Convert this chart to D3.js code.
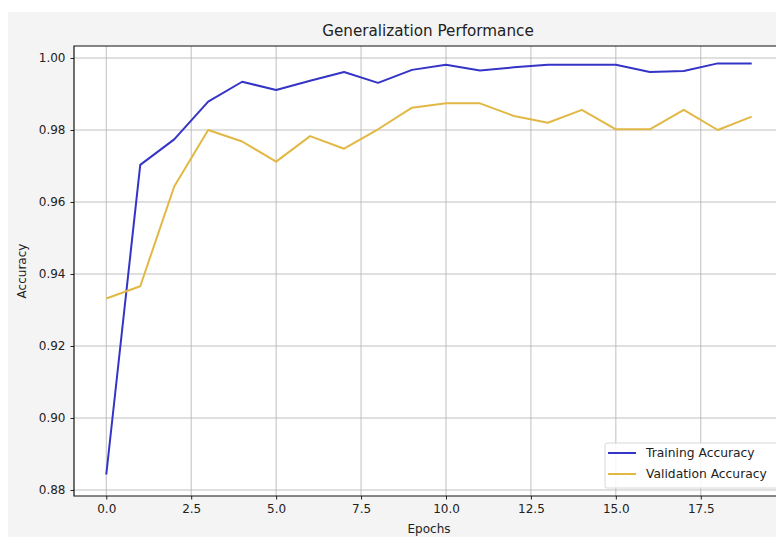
<!DOCTYPE html>
<html>
<head>
<meta charset="utf-8">
<script src="https://cdn.jsdelivr.net/npm/d3@7"></script>
<style>
  html, body { margin: 0; padding: 0; background: #fff; }
  svg { display: block; font-family: "DejaVu Sans", sans-serif; }
</style>
</head>
<body>
<svg id="chart" width="776" height="538"></svg>
<script>
// epochs 0..19
const epochs = d3.range(0, 20)

const trainingAccuracy = [
  0.8843, 0.9703, 0.9774, 0.9879, 0.9934, 0.9911, 0.9937, 0.9961, 0.9931, 0.9967,
  0.9981, 0.9965, 0.9974, 0.9981, 0.9981, 0.9981, 0.9961, 0.9964, 0.9985, 0.9985
]

const validationAccuracy = [
  0.9332, 0.9366, 0.9643, 0.9800, 0.9768, 0.9712, 0.9783, 0.9748, 0.9802, 0.9862,
  0.9874, 0.9874, 0.9839, 0.9820, 0.9856, 0.9802, 0.9802, 0.9856, 0.9800, 0.9837
]

const xTicks = [0, 2.5, 5, 7.5, 10, 12.5, 15, 17.5]
const yTicks = [0.88, 0.90, 0.92, 0.94, 0.96, 0.98, 1.00]

const series = [
  { name: 'Training Accuracy', values: trainingAccuracy, color: '#3434c6' },
  { name: 'Validation Accuracy', values: validationAccuracy, color: '#e2b845' }
]

const svg = d3.select('#chart')

// figure background (matplotlib-like light gray)
svg.append('rect')
  .attr('x', 8).attr('y', 12)
  .attr('width', 768).attr('height', 525)
  .attr('fill', '#f4f4f4')

const plot = { left: 74, right: 784, top: 46, bottom: 496 }

const x = d3.scaleLinear().domain([-0.95, 19.95]).range([plot.left, plot.right])
const y = d3.scaleLinear().domain([0.87833, 1.00333]).range([plot.bottom, plot.top])

svg.append('rect')
  .attr('x', plot.left).attr('y', plot.top)
  .attr('width', plot.right - plot.left).attr('height', plot.bottom - plot.top)
  .attr('fill', '#fff')

// grid
const grid = svg.append('g').attr('stroke', '#b0b0b0').attr('stroke-width', 0.8)
grid.selectAll('.gx').data(xTicks).join('line')
  .attr('x1', d => x(d)).attr('x2', d => x(d))
  .attr('y1', plot.top).attr('y2', plot.bottom)
grid.selectAll('.gy').data(yTicks).join('line')
  .attr('y1', d => y(d)).attr('y2', d => y(d))
  .attr('x1', plot.left).attr('x2', plot.right)

// lines
const line = d3.line()
  .x((d, i) => x(epochs[i]))
  .y(d => y(d))

svg.selectAll('.series').data(series).join('path')
  .attr('fill', 'none')
  .attr('stroke', d => d.color)
  .attr('stroke-width', 2)
  .attr('stroke-linejoin', 'round')
  .attr('d', d => line(d.values))

// axes
const xAxis = d3.axisBottom(x).tickValues(xTicks).tickFormat(d3.format('.1f')).tickSize(3.5).tickPadding(5)
const yAxis = d3.axisLeft(y).tickValues(yTicks).tickFormat(d3.format('.2f')).tickSize(3.5).tickPadding(5)

const gx = svg.append('g').attr('transform', `translate(0,${plot.bottom})`).call(xAxis)
const gy = svg.append('g').attr('transform', `translate(${plot.left},0)`).call(yAxis)
;[gx, gy].forEach(g => {
  g.select('.domain').remove()
  g.selectAll('text').attr('font-size', 12).attr('fill', '#222').attr('font-family', '"DejaVu Sans", sans-serif')
  g.selectAll('line').attr('stroke', '#222')
})

// spines
svg.append('path')
  .attr('d', `M${plot.right},${plot.top}H${plot.left}V${plot.bottom}H${plot.right}`)
  .attr('fill', 'none')
  .attr('stroke', '#111')
  .attr('stroke-width', 1.2)

// title and labels
svg.append('text')
  .attr('x', (plot.left + plot.right) / 2 - 1).attr('y', 36)
  .attr('text-anchor', 'middle')
  .attr('font-size', 15.2).attr('fill', '#222')
  .text('Generalization Performance')

svg.append('text')
  .attr('x', (plot.left + plot.right) / 2).attr('y', 533)
  .attr('text-anchor', 'middle')
  .attr('font-size', 12).attr('fill', '#222')
  .text('Epochs')

svg.append('text')
  .attr('transform', `translate(26,${(plot.top + plot.bottom) / 2}) rotate(-90)`)
  .attr('text-anchor', 'middle')
  .attr('font-size', 12).attr('fill', '#222')
  .text('Accuracy')

// legend
const legend = svg.append('g').attr('transform', 'translate(605,443)')
legend.append('rect')
  .attr('width', 185).attr('height', 45).attr('rx', 2)
  .attr('fill', '#fff').attr('fill-opacity', 0.85)
  .attr('stroke', '#d8d8d8')

const item = legend.selectAll('.item').data(series).join('g')
  .attr('transform', (d, i) => `translate(0,${10 + i * 21})`)
item.append('line')
  .attr('x1', 3).attr('x2', 31)
  .attr('stroke', d => d.color).attr('stroke-width', 2)
item.append('text')
  .attr('x', 41).attr('dy', '0.35em')
  .attr('font-size', 12.3).attr('fill', '#222')
  .text(d => d.name)
</script>
</body>
</html>
